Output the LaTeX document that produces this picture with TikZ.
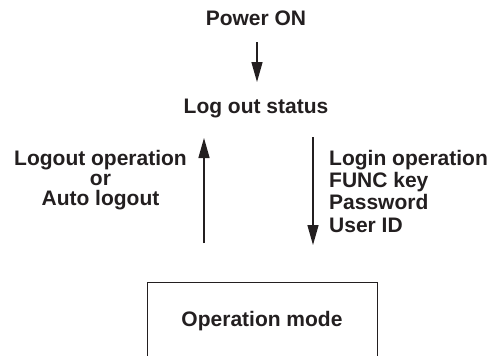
\documentclass[tikz,border=0pt]{standalone}
\usepackage{fontspec}
\setmainfont{Liberation Sans}
\usetikzlibrary{arrows.meta}
\definecolor{ink}{HTML}{231F20}
\begin{document}
\begin{tikzpicture}[x=1pt,y=-1pt,
  lbl/.style={font=\bfseries\fontsize{21}{22}\selectfont, text=ink, inner sep=0pt},
  flow/.style={draw=ink, line width=1.4pt, -{Triangle[length=20pt,width=11pt]}}]
\useasboundingbox (0,0) rectangle (491,356);
\begin{scope}
\clip (0,0) rectangle (491,356);
\node[draw=ink, line width=1.3pt, minimum width=230pt, minimum height=100pt, anchor=north west, inner sep=0pt] (box) at (147,282) {};
\end{scope}
\node[lbl, anchor=base] (power) at (256,25) {Power ON};
\node[lbl, anchor=base] (logout) at (256,113) {Log out status};
\node[lbl, anchor=base, align=center] (left) at (100.5,205) {Logout operation\\[-2pt]or\\[-2pt]Auto logout};
\node[lbl, anchor=base west, align=left] (right) at (329,232) {Login operation\\[0.3pt]FUNC key\\[0.3pt]Password\\[0.3pt]User ID};
\node[lbl, anchor=base] (mode) at (262,326) {Operation mode};
\coordinate (a1s) at (257,42);
\coordinate (a1e) at (257,82);
\coordinate (a2s) at (204,243);
\coordinate (a2e) at (204,138);
\coordinate (a3s) at (313,137);
\coordinate (a3e) at (313,245);
\draw[flow] (a1s) -- (a1e);
\draw[flow] (a2s) -- (a2e);
\draw[flow] (a3s) -- (a3e);
\end{tikzpicture}
\end{document}
